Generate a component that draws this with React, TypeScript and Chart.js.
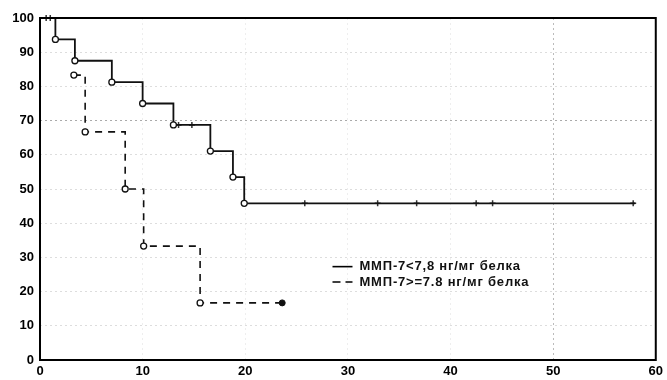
import React, { useEffect, useRef } from "react";
import { Chart, registerables } from "chart.js";

Chart.register(...registerables);

// Group 1 (solid): event times (months) and survival (%)
const solidTimes = [0, 1.5, 3.4, 7.0, 10.0, 13.0, 16.6, 18.8, 19.9, 58.0];
const solidSurv = [100, 93.75, 87.5, 81.25, 75, 68.75, 61.1, 53.5, 45.8, 45.8];
// Group 1 censored observations
const solidCensTimes = [0.6, 1.0, 13.5, 14.8, 25.8, 32.9, 36.7, 42.5, 44.1, 57.8];
const solidCensSurv = [100, 100, 68.75, 68.75, 45.8, 45.8, 45.8, 45.8, 45.8, 45.8];

// Group 2 (dashed) – drawn from its first event
const dashTimes = [3.3, 4.4, 8.3, 10.1, 15.6, 23.6];
const dashSurv = [83.3, 66.7, 50, 33.3, 16.7, 16.7];
const dashCensTimes = [23.6];
const dashCensSurv = [16.7];

const legendLabels = ["ММП-7<7,8 нг/мг белка", "ММП-7>=7.8 нг/мг белка"];
const xTicks = [0, 10, 20, 30, 40, 50, 60];
const yTicks = [0, 10, 20, 30, 40, 50, 60, 70, 80, 90, 100];

const FONT = "'Liberation Sans', Arial, sans-serif";

const toPts = (xs: number[], ys: number[]) => xs.map((x, i) => ({ x, y: ys[i] }));

export default function App() {
  const ref = useRef<HTMLCanvasElement | null>(null);
  useEffect(() => {
    if (!ref.current) return;
    const frame = {
      id: "frame",
      afterDatasetsDraw(chart: any) {
        const { ctx, chartArea: a } = chart;
        ctx.save();
        ctx.strokeStyle = "#000";
        ctx.lineWidth = 2;
        ctx.strokeRect(a.left, a.top, a.right - a.left, a.bottom - a.top);
        // legend
        const xs = chart.scales.x;
        const ys = chart.scales.y;
        const lx = xs.getPixelForValue(28.5);
        const rows = [ys.getPixelForValue(27.3), ys.getPixelForValue(22.8)];
        ctx.font = "bold 13px " + FONT;
        try {
          (ctx as any).letterSpacing = "0.8px";
        } catch (e) {}
        ctx.fillStyle = "#111";
        ctx.textBaseline = "middle";
        ctx.lineWidth = 1.6;
        rows.forEach((ry: number, i: number) => {
          ctx.beginPath();
          ctx.setLineDash(i === 0 ? [] : [8, 5]);
          ctx.moveTo(lx, ry);
          ctx.lineTo(lx + 20, ry);
          ctx.stroke();
          ctx.setLineDash([]);
          ctx.fillText(legendLabels[i], lx + 27, ry);
        });
        ctx.restore();
      },
    };
    const eventRadius = (n: number, skipFirst: boolean) => (c: any) =>
      (skipFirst && c.dataIndex === 0) || c.dataIndex === n - 1 ? 0 : 3;
    const chart = new Chart(ref.current, {
      type: "line",
      data: {
        datasets: [
          {
            data: toPts(solidTimes, solidSurv),
            stepped: "before",
            borderColor: "#111",
            borderWidth: 1.8,
            pointRadius: eventRadius(solidTimes.length, true),
            pointBackgroundColor: "#fff",
            pointBorderColor: "#111",
            pointBorderWidth: 1.3,
            clip: false,
          },
          {
            data: toPts(dashTimes, dashSurv),
            stepped: "before",
            borderColor: "#111",
            borderWidth: 1.6,
            borderDash: [7, 6],
            pointRadius: eventRadius(dashTimes.length, false),
            pointBackgroundColor: "#fff",
            pointBorderColor: "#111",
            pointBorderWidth: 1.3,
            clip: false,
          },
          {
            type: "scatter",
            data: toPts(solidCensTimes, solidCensSurv),
            showLine: false,
            pointStyle: "cross",
            pointRadius: 3,
            pointBorderColor: "#333",
            pointBorderWidth: 1.5,
            clip: false,
          },
          {
            type: "scatter",
            data: toPts(dashCensTimes, dashCensSurv),
            showLine: false,
            pointStyle: "circle",
            pointRadius: 3,
            pointBackgroundColor: "#111",
            pointBorderColor: "#111",
            clip: false,
          },
        ] as any,
      },
      options: {
        animation: false,
        responsive: false,
        events: [],
        layout: { padding: { top: 18, right: 11, left: 0, bottom: 0 } },
        plugins: { legend: { display: false }, tooltip: { enabled: false } },
        scales: {
          x: {
            type: "linear",
            min: 0,
            max: 60,
            afterFit: (s: any) => {
              s.height = 20;
            },
            afterBuildTicks: (s: any) => {
              s.ticks = xTicks.map((v) => ({ value: v }));
            },
            ticks: { color: "#000", font: { family: FONT, size: 13, weight: "bold" }, padding: 4 },
            grid: {
              drawTicks: false,
              color: (c: any) => (c.tick && c.tick.value === 50 ? "#bbb" : "#eee"),
              lineWidth: 1,
            },
            border: { display: false, dash: [2, 3] },
          },
          y: {
            type: "linear",
            min: 0,
            max: 100,
            afterFit: (s: any) => {
              s.width = 40;
            },
            afterBuildTicks: (s: any) => {
              s.ticks = yTicks.map((v) => ({ value: v }));
            },
            ticks: { color: "#000", font: { family: FONT, size: 13, weight: "bold" }, padding: 6 },
            grid: {
              drawTicks: false,
              color: (c: any) => (c.tick && c.tick.value === 70 ? "#aaa" : "#ddd"),
              lineWidth: 1,
            },
            border: { display: false, dash: [2, 3] },
          },
        },
      } as any,
      plugins: [frame],
    });
    return () => chart.destroy();
  }, []);
  return (
    <div style={{ position: "absolute", left: 0, top: 0, width: 667, height: 380, background: "#fff" }}>
      <canvas ref={ref} width={667} height={380} style={{ width: 667, height: 380, display: "block" }} />
    </div>
  );
}
